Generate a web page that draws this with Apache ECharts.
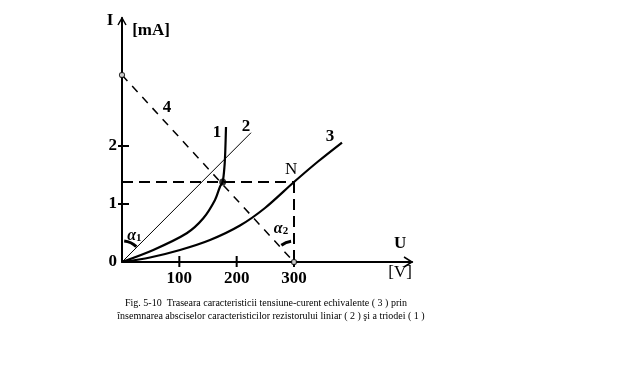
<!DOCTYPE html>
<html><head><meta charset="utf-8">
<script src="https://cdn.jsdelivr.net/npm/echarts@6/dist/echarts.min.js"></script>
<style>html,body{margin:0;padding:0;background:#fff}#c{width:624px;height:370px}</style>
</head><body><div id="c"></div>
<script>
// ---- data (U in V, I in mA) ----
const triode1 = [[0,0],[54.6,0.207],[112.9,0.495],[141.8,0.753],[162.2,1.069],[170.9,1.298],[175.6,1.38],[178.8,1.655],[180.2,1.931],[181.4,2.328]];
const resistor2 = [[0,0],[225,2.229]];
const equivalent3 = [[0,0],[48.8,0.078],[101.2,0.207],[153.5,0.379],[205.8,0.629],[249.4,0.931],[300,1.379],[341.9,1.733],[383.7,2.060]];
const loadLine4 = [[0,3.224],[300,0]];
const pointQ = [175.6,1.38];
const projH = [[0,1.38],[300,1.38]];
const projV = [[300,1.38],[300,0]];
const xTicks = [100,200,300];
const yTicks = [1,2];
const yTickLabels = [0,1,2];
const xMax = 505.8, yMax = 4.207;
const angleMarks = [ {at:[0,0], from:-84, to:-47}, {at:[300,0], from:-127, to:-98} ];
const textMarks = [
  ['I', -20.9, 4.155, 'b'], ['[mA]', 50.6, 3.983, 'b'],
  ['U', 484.9, 0.31, 'b'], ['[V]', 484.9, -0.19, 'n'],
  ['1', 165.7, 2.224, 'b'], ['2', 216.3, 2.328, 'b'], ['3', 362.8, 2.155, 'b'],
  ['4', 78.5, 2.655, 'b'], ['N', 294.8, 1.586, 'n'],
  ['{a|α}{s|1}', 21.5, 0.448, 'r'], ['{a|α}{s|2}', 277.3, 0.569, 'r']
];
const caption1 = 'Fig. 5-10  Traseara caracteristicii tensiune-curent echivalente ( 3 ) prin';
const caption2 = 'însemnarea absciselor caracteristicilor rezistorului liniar ( 2 ) şi a triodei ( 1 )';

const SERIF = 'Liberation Serif';
const chart = echarts.init(document.getElementById('c'));
const lineBase = {type:'line', symbol:'none', silent:true, animation:false, z:3};
chart.setOption({
  animation:false,
  backgroundColor:'#fff',
  grid:{left:122, right:624-412, top:18, bottom:370-262, containLabel:false},
  xAxis:{type:'value', min:0, max:xMax, splitLine:{show:false},
    axisLine:{show:true, onZero:true, lineStyle:{color:'#000', width:2}},
    axisTick:{show:false},
    axisLabel:{customValues:xTicks, color:'#000', fontFamily:SERIF, fontWeight:'bold', fontSize:17, margin:8}},
  yAxis:{type:'value', min:0, max:yMax, splitLine:{show:false},
    axisLine:{show:true, onZero:true, lineStyle:{color:'#000', width:2}},
    axisTick:{show:false},
    axisLabel:{customValues:yTickLabels, color:'#000', fontFamily:SERIF, fontWeight:'bold', fontSize:17, margin:5}},
  graphic:[
    {type:'text', x:266, y:303, style:{text:caption1, font:'10px "Liberation Serif"', fill:'#000', align:'center', verticalAlign:'middle'}},
    {type:'text', x:271, y:316, style:{text:caption2, font:'10px "Liberation Serif"', fill:'#000', align:'center', verticalAlign:'middle'}}
  ],
  series:[
    Object.assign({}, lineBase, {name:'1', data:triode1, smooth:0.3, lineStyle:{color:'#000', width:2.2}}),
    Object.assign({}, lineBase, {name:'2', data:resistor2, lineStyle:{color:'#000', width:1}}),
    Object.assign({}, lineBase, {name:'3', data:equivalent3, smooth:0.3, lineStyle:{color:'#000', width:2.2}}),
    Object.assign({}, lineBase, {name:'4', data:loadLine4, lineStyle:{color:'#000', width:1.5, type:[8,7]}}),
    Object.assign({}, lineBase, {name:'projH', data:projH, lineStyle:{color:'#000', width:2, type:[11,6]}}),
    Object.assign({}, lineBase, {name:'projV', data:projV, lineStyle:{color:'#000', width:2, type:[11,6]}}),
    {type:'scatter', data:[loadLine4[0], loadLine4[1]], symbol:'circle', symbolSize:5, z:5,
      itemStyle:{color:'#fff', borderColor:'#000', borderWidth:1.2}, silent:true},
    {type:'scatter', data:[pointQ], symbol:'circle', symbolSize:7, z:5, itemStyle:{color:'#000'}, silent:true},
    {type:'custom', clip:false, silent:true, z:4, data:xTicks.map(v=>[v,0]),
      renderItem:(p,api)=>{const c=api.coord([api.value(0),0]);
        return {type:'line', shape:{x1:c[0],y1:c[1]-6,x2:c[0],y2:c[1]+5}, style:{stroke:'#000', lineWidth:2}};}},
    {type:'custom', clip:false, silent:true, z:4, data:yTicks.map(v=>[0,v]),
      renderItem:(p,api)=>{const c=api.coord([0,api.value(1)]);
        return {type:'line', shape:{x1:c[0]-4,y1:c[1],x2:c[0]+7,y2:c[1]}, style:{stroke:'#000', lineWidth:2}};}},
    {type:'custom', clip:false, silent:true, z:4, data:[[xMax,0,0],[0,yMax,1]],
      renderItem:(p,api)=>{const c=api.coord([api.value(0),api.value(1)]);
        const pts = api.value(2)===0 ? [[c[0]-8,c[1]-5],[c[0],c[1]],[c[0]-8,c[1]+5]] : [[c[0]-4,c[1]+7],[c[0],c[1]],[c[0]+4,c[1]+7]];
        return {type:'polyline', shape:{points:pts}, style:{stroke:'#000', lineWidth:1.5, fill:null}};}},
    {type:'custom', clip:false, silent:true, z:4, data:angleMarks.map(a=>[a.at[0],a.at[1],a.from,a.to]),
      renderItem:(p,api)=>{const c=api.coord([api.value(0),api.value(1)]);
        return {type:'arc', shape:{cx:c[0],cy:c[1],r:21,startAngle:api.value(2)*Math.PI/180,endAngle:api.value(3)*Math.PI/180,clockwise:true},
          style:{stroke:'#000', lineWidth:3, fill:null}};}},
    {type:'custom', clip:false, silent:true, z:6, data:textMarks.map(t=>[t[1],t[2]]),
      renderItem:(p,api)=>{const c=api.coord([api.value(0),api.value(1)]);
        const txt = textMarks[p.dataIndex][0], kind = textMarks[p.dataIndex][3];
        return {type:'text', x:c[0], y:c[1], style:{text:txt, fill:'#000', align:'center', verticalAlign:'middle',
          fontFamily:SERIF, fontWeight: kind==='b' ? 'bold':'normal', fontSize:17,
          rich:{a:{fontFamily:SERIF, fontSize:16, fontStyle:'italic', fontWeight:'bold'}, s:{fontFamily:SERIF, fontSize:11, fontWeight:'bold', padding:[4,0,0,0]}}}};}}
  ]
});
</script></body></html>
